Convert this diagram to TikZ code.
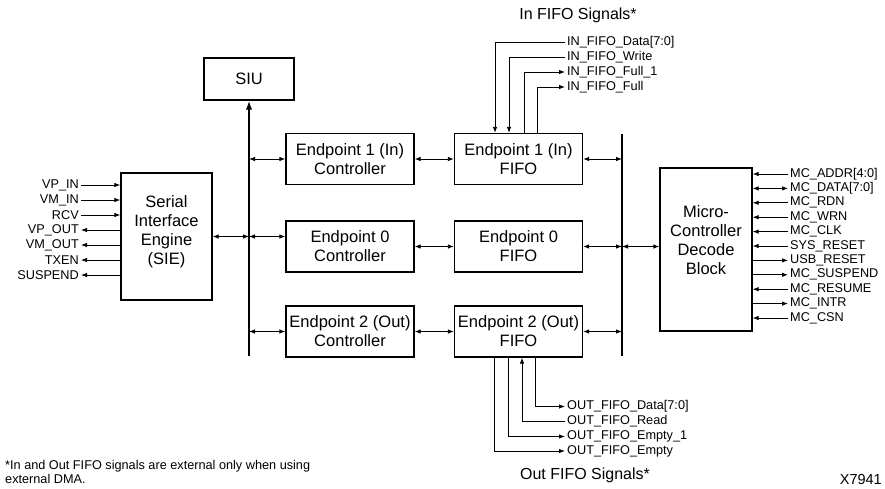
\documentclass[tikz,border=0pt]{standalone}
\usepackage{fontspec}
\setmainfont{Liberation Sans}
\usetikzlibrary{arrows.meta}

\tikzset{
  blk/.style={draw, line width=1.3pt, align=center, inner sep=1pt,
    font=\fontsize{16.5}{19}\selectfont},
  txt/.style={align=center, inner sep=0pt, font=\fontsize{16.5}{19}\selectfont},
  sig/.style={inner sep=2pt, font=\fontsize{12.7}{14}\selectfont},
  wire/.style={line width=0.8pt},
  bus/.style={line width=2pt},
  sigarr/.style={-{Latex[length=6pt,width=4.5pt]}},
  dblarr/.style={{Latex[length=6pt,width=4.5pt]}-{Latex[length=6pt,width=4.5pt]}},
  busarr/.style={-{Latex[length=9pt,width=6.5pt]}},
}

\begin{document}
\begin{tikzpicture}[x=1pt,y=-1pt]
\useasboundingbox (0,0) rectangle (885,488);

% blocks
\node[blk, minimum width=91pt, minimum height=127pt] (sie) at (166.5,236.5) {};
\node[txt] (sietxt) at ([yshift=5pt]sie.center) {Serial\\Interface\\Engine\\(SIE)};
\node[blk, minimum width=90pt, minimum height=42pt] (siu) at (249,79) {SIU};

\node[blk, minimum width=128pt, minimum height=51pt] (ep1c) at (350,159) {Endpoint 1 (In)\\Controller};
\node[blk, minimum width=128pt, minimum height=51pt] (ep0c) at (350,246.5) {Endpoint 0\\Controller};
\node[blk, minimum width=128pt, minimum height=51pt] (ep2c) at (350,331.5) {Endpoint 2 (Out)\\Controller};

\node[blk, minimum width=128pt, minimum height=51pt] (ep1f) at (518.5,159) {Endpoint 1 (In)\\FIFO};
\node[blk, minimum width=128pt, minimum height=51pt] (ep0f) at (518.5,246.5) {Endpoint 0\\FIFO};
\node[blk, minimum width=128pt, minimum height=51pt] (ep2f) at (518.5,331.5) {Endpoint 2 (Out)\\FIFO};

\node[blk, minimum width=92pt, minimum height=163pt] (mc) at (706,249.5) {};
\node[txt] (mctxt) at ([yshift=9.5pt]mc.center) {Micro-\\Controller\\Decode\\Block};

% buses
\coordinate (lbus) at (249,356);
\coordinate (rtop) at (622,134);
\coordinate (rbot) at (622,356);
\draw[bus, busarr] (lbus) -- (siu.south);
\draw[bus] (rtop) -- (rbot);

\draw[wire, dblarr] (sie.east) -- (sie.east -| lbus);
\draw[wire, dblarr] (sie.east -| lbus) -- (sie.east -| ep0c.west);
\draw[wire, dblarr] (ep1c.west -| lbus) -- (ep1c.west);
\draw[wire, dblarr] (ep2c.west -| lbus) -- (ep2c.west);
\draw[wire, dblarr] (ep1c) -- (ep1f);
\draw[wire, dblarr] (ep0c) -- (ep0f);
\draw[wire, dblarr] (ep2c) -- (ep2f);
\draw[wire, dblarr] (ep1f.east) -- (ep1f.east -| rtop);
\draw[wire, dblarr] (ep0f.east) -- (ep0f.east -| rtop);
\draw[wire, dblarr] (ep2f.east) -- (ep2f.east -| rtop);
\draw[wire, dblarr] (ep0f.east -| rtop) -- (ep0f.east -| mc.west);

% SIE signals
\node[sig, anchor=east] (vpin) at (81,185) {VP\_IN};
\node[sig, anchor=east] (vmin) at (81,200) {VM\_IN};
\node[sig, anchor=east] (rcv) at (81,215) {RCV};
\node[sig, anchor=east] (vpout) at (81,230) {VP\_OUT};
\node[sig, anchor=east] (vmout) at (81,245) {VM\_OUT};
\node[sig, anchor=east] (txen) at (81,260) {TXEN};
\node[sig, anchor=east] (susp) at (81,275) {SUSPEND};
\draw[wire, sigarr] (vpin) -- (vpin -| sie.west);
\draw[wire, sigarr] (vmin) -- (vmin -| sie.west);
\draw[wire, sigarr] (rcv) -- (rcv -| sie.west);
\draw[wire, sigarr] (vpout -| sie.west) -- (vpout);
\draw[wire, sigarr] (vmout -| sie.west) -- (vmout);
\draw[wire, sigarr] (txen -| sie.west) -- (txen);
\draw[wire, sigarr] (susp -| sie.west) -- (susp);

% micro-controller signals
\node[sig, anchor=west] (maddr) at (788,174) {MC\_ADDR[4:0]};
\node[sig, anchor=west] (mdata) at (788,188.4) {MC\_DATA[7:0]};
\node[sig, anchor=west] (mrdn) at (788,202.8) {MC\_RDN};
\node[sig, anchor=west] (mwrn) at (788,217.2) {MC\_WRN};
\node[sig, anchor=west] (mclk) at (788,231.6) {MC\_CLK};
\node[sig, anchor=west] (sysrst) at (788,246) {SYS\_RESET};
\node[sig, anchor=west] (usbrst) at (788,260.4) {USB\_RESET};
\node[sig, anchor=west] (msusp) at (788,274.8) {MC\_SUSPEND};
\node[sig, anchor=west] (mres) at (788,289.2) {MC\_RESUME};
\node[sig, anchor=west] (mintr) at (788,303.6) {MC\_INTR};
\node[sig, anchor=west] (mcsn) at (788,318) {MC\_CSN};
\draw[wire, sigarr] (maddr) -- (maddr -| mc.east);
\draw[wire, dblarr] (mdata) -- (mdata -| mc.east);
\draw[wire, sigarr] (mrdn) -- (mrdn -| mc.east);
\draw[wire, sigarr] (mwrn) -- (mwrn -| mc.east);
\draw[wire, sigarr] (mclk) -- (mclk -| mc.east);
\draw[wire, sigarr] (sysrst) -- (sysrst -| mc.east);
\draw[wire, sigarr] (usbrst -| mc.east) -- (usbrst);
\draw[wire, sigarr] (msusp -| mc.east) -- (msusp);
\draw[wire, sigarr] (mres) -- (mres -| mc.east);
\draw[wire, sigarr] (mintr -| mc.east) -- (mintr);
\draw[wire, sigarr] (mcsn) -- (mcsn -| mc.east);

% in FIFO signals
\node[txt, font=\fontsize{16}{19}\selectfont] (intitle) at (578,15) {In FIFO Signals*};
\node[sig, anchor=west] (idata) at (565,42) {IN\_FIFO\_Data[7:0]};
\node[sig, anchor=west] (iwrite) at (565,57) {IN\_FIFO\_Write};
\node[sig, anchor=west] (ifull1) at (565,72) {IN\_FIFO\_Full\_1};
\node[sig, anchor=west] (ifull) at (565,87) {IN\_FIFO\_Full};
\draw[wire, sigarr] (idata.west) -| ([xshift=-23.5pt]ep1f.north);
\draw[wire, sigarr] (iwrite.west) -| ([xshift=-9.5pt]ep1f.north);
\draw[wire, sigarr] ([xshift=5.5pt]ep1f.north) |- (ifull1.west);
\draw[wire, sigarr] ([xshift=18.5pt]ep1f.north) |- (ifull.west);

% out FIFO signals
\node[sig, anchor=west] (odata) at (565,406.5) {OUT\_FIFO\_Data[7:0]};
\node[sig, anchor=west] (oread) at (565,421.5) {OUT\_FIFO\_Read};
\node[sig, anchor=west] (oempty1) at (565,436.5) {OUT\_FIFO\_Empty\_1};
\node[sig, anchor=west] (oempty) at (565,451) {OUT\_FIFO\_Empty};
\node[txt, font=\fontsize{16}{19}\selectfont] (outtitle) at (585,475) {Out FIFO Signals*};
\draw[wire, sigarr] ([xshift=16.5pt]ep2f.south) |- (odata.west);
\draw[wire, sigarr] (oread.west) -| ([xshift=3.5pt]ep2f.south);
\draw[wire, sigarr] ([xshift=-10.5pt]ep2f.south) |- (oempty1.west);
\draw[wire, sigarr] ([xshift=-24.5pt]ep2f.south) |- (oempty.west);

% notes
\node[sig, anchor=north west, align=left, inner sep=0pt] (note) at (5,460) {*In and Out FIFO signals are external only when using\\external DMA.};
\node[sig, anchor=base east, inner sep=0pt, font=\fontsize{14.5}{16}\selectfont] (fig) at (882,484) {X7941};

\end{tikzpicture}
\end{document}
